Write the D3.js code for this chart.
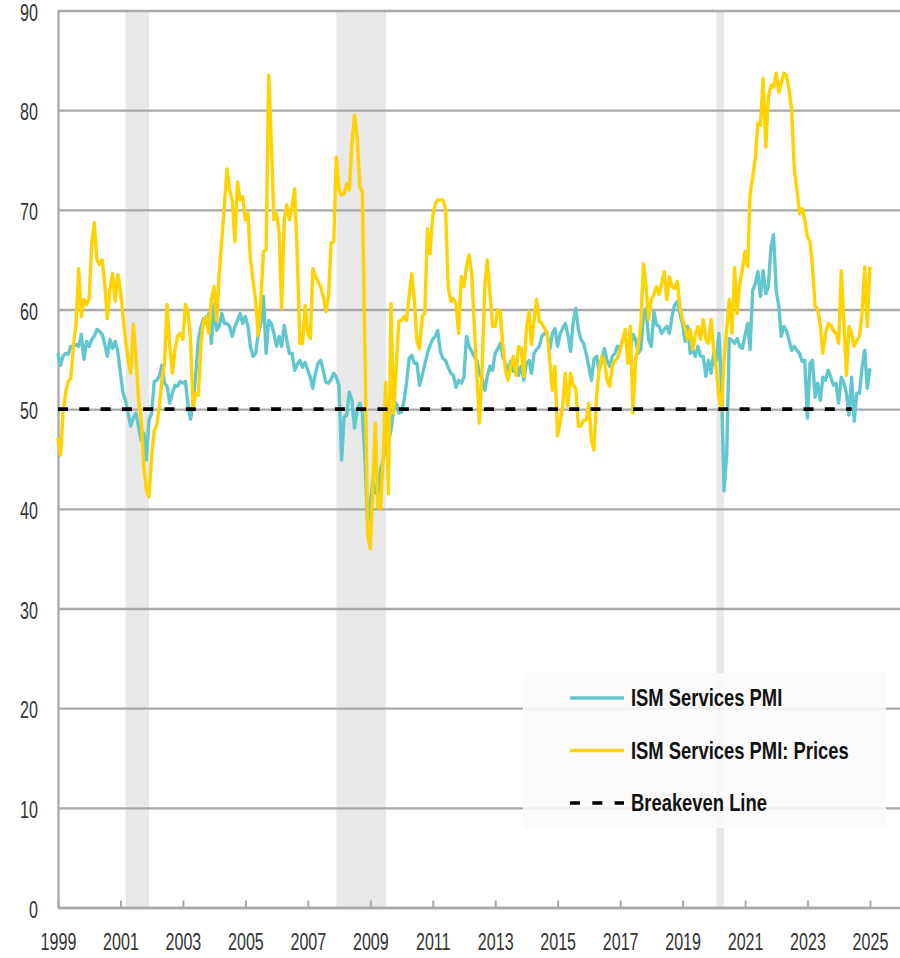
<!DOCTYPE html>
<html>
<head>
<meta charset="utf-8">
<script src="https://cdn.jsdelivr.net/npm/d3@7"></script>
<style>
  body { margin: 0; background: #fff; }
  svg { display: block; }
  text { font-family: 'Liberation Sans', Arial, sans-serif; }
</style>
</head>
<body>
<div id="chart"></div>
<script>
// monthly readings, first value is Dec 1998, plotted at month end
const firstYear = 1998, firstMonth = 11;

const pmi = [
  55.6,
  54.4, 55.3, 55.6, 55.5, 56.3, 56.3, 56.5, 56.3, 57.5, 55.0, 56.8, 56.3, // 1999
  57.0, 57.3, 58.0, 57.8, 57.5, 56.6, 55.3, 57.0, 56.1, 56.8, 55.8, 53.6, // 2000
  51.6, 50.9, 49.6, 48.3, 49.1, 49.6, 48.3, 46.9, 47.6, 44.9, 48.9, 49.6, // 2001
  52.8, 52.9, 53.3, 54.4, 52.6, 52.3, 50.6, 51.6, 52.4, 52.3, 52.8, 52.6, // 2002
  52.8, 50.5, 49.0, 50.5, 53.5, 57.0, 58.3, 59.1, 58.6, 59.6, 56.6, 60.5, // 2003
  57.9, 58.3, 59.6, 58.6, 58.6, 58.3, 57.3, 58.3, 58.9, 59.6, 58.6, 59.3, // 2004
  58.3, 56.3, 55.3, 55.6, 57.5, 58.6, 61.3, 55.6, 58.9, 58.6, 57.6, 56.3, // 2005
  57.3, 56.3, 58.4, 56.9, 55.6, 55.6, 53.9, 54.5, 54.9, 54.2, 54.7, 53.9, // 2006
  53.2, 52.1, 53.6, 54.6, 54.9, 53.9, 52.7, 52.6, 53.0, 53.6, 53.2, 52.4, // 2007
  44.9, 49.2, 49.4, 51.7, 50.9, 48.1, 49.9, 50.6, 49.6, 44.9, 38.5, 40.5, // 2008
  42.9, 41.6, 41.5, 43.9, 44.9, 46.6, 46.8, 47.9, 49.9, 50.6, 49.6, 49.7, // 2009
  50.9, 52.6, 55.1, 55.4, 54.6, 54.6, 52.4, 53.4, 54.5, 55.6, 56.4, 57.0, // 2010
  57.3, 57.9, 55.8, 55.1, 54.9, 54.2, 53.6, 53.4, 52.2, 52.9, 52.6, 53.2, // 2011
  57.3, 56.3, 55.8, 55.3, 54.9, 53.6, 53.1, 51.9, 53.3, 54.3, 53.9, 55.6, // 2012
  56.1, 56.6, 55.3, 54.6, 53.8, 54.8, 53.8, 54.9, 53.4, 54.3, 52.9, 54.6, // 2013
  54.9, 53.6, 55.6, 56.0, 56.3, 57.3, 57.6, 57.6, 56.0, 57.6, 58.1, 56.3, // 2014
  57.6, 58.1, 58.6, 57.5, 55.8, 58.6, 60.1, 58.0, 57.0, 56.6, 55.6, 54.3, // 2015
  52.9, 55.0, 55.3, 53.9, 54.9, 56.1, 54.9, 54.3, 55.3, 55.6, 56.3, 56.1, // 2016
  57.0, 57.1, 56.6, 56.1, 57.5, 57.0, 55.6, 56.0, 59.3, 60.1, 57.0, 56.3, // 2017
  59.8, 58.5, 58.3, 57.6, 58.0, 58.3, 57.6, 59.3, 60.5, 60.8, 59.6, 58.6, // 2018
  56.8, 58.3, 55.6, 56.0, 55.3, 56.3, 55.3, 55.3, 53.3, 54.9, 53.6, 55.6, // 2019
  54.9, 57.6, 52.5, 41.8, 45.4, 57.1, 56.9, 56.6, 57.1, 56.3, 56.1, 57.4, // 2020
  58.6, 56.0, 61.9, 62.6, 63.8, 61.3, 63.9, 61.6, 62.3, 66.3, 67.5, 61.9, // 2021
  60.3, 57.3, 58.3, 57.9, 56.9, 55.9, 56.3, 55.9, 55.6, 54.8, 54.9, 49.1, // 2022
  54.6, 54.9, 51.2, 52.6, 50.9, 53.2, 52.9, 53.9, 53.2, 52.4, 52.6, 50.6, // 2023
  53.2, 52.7, 51.6, 49.4, 53.2, 48.8, 51.6, 51.6, 54.2, 55.9, 52.1, 54.1  // 2024
];

const prices = [
  47.1,
  45.4, 49.6, 51.6, 52.8, 53.1, 56.3, 58.6, 64.1, 59.3, 61.0, 60.5, 61.1, // 1999
  66.7, 68.7, 65.0, 64.5, 65.0, 62.6, 59.1, 62.0, 63.6, 60.8, 63.5, 62.0, // 2000
  59.3, 57.0, 55.0, 53.6, 58.5, 55.3, 51.0, 48.9, 44.2, 41.9, 41.2, 45.3, // 2001
  47.9, 48.3, 50.3, 52.9, 54.6, 60.5, 56.3, 53.6, 56.0, 57.3, 57.6, 57.0, // 2002
  60.5, 59.8, 57.0, 50.1, 51.6, 51.4, 56.6, 58.8, 59.3, 57.6, 61.0, 62.3, // 2003
  58.9, 63.6, 67.0, 70.5, 74.1, 72.0, 71.0, 66.8, 72.8, 71.0, 71.3, 69.0, // 2004
  69.6, 65.1, 62.9, 60.9, 57.4, 60.9, 65.8, 66.0, 83.5, 76.7, 69.0, 69.6, // 2005
  67.6, 60.1, 69.0, 70.5, 69.0, 70.3, 72.1, 65.3, 56.6, 56.6, 60.4, 57.6, // 2006
  57.1, 64.1, 63.4, 62.8, 62.3, 61.3, 59.8, 61.3, 66.6, 66.8, 75.3, 72.0, // 2007
  71.5, 71.6, 72.6, 72.0, 76.7, 79.5, 77.3, 72.3, 71.8, 55.0, 37.5, 36.0, // 2008
  42.5, 48.6, 40.2, 40.0, 45.2, 52.7, 41.5, 60.6, 49.6, 54.2, 58.8, 58.9, // 2009
  59.3, 58.9, 61.3, 63.6, 60.9, 56.8, 56.1, 59.3, 59.6, 68.1, 65.6, 69.3, // 2010
  70.6, 71.0, 71.0, 71.0, 70.1, 62.3, 60.8, 61.1, 60.6, 57.6, 63.3, 62.3, // 2011
  64.3, 65.5, 63.6, 58.6, 53.3, 48.6, 53.9, 62.3, 65.0, 61.6, 58.3, 58.3, // 2012
  60.0, 59.8, 56.3, 53.9, 52.9, 54.3, 55.3, 53.4, 56.3, 56.1, 53.3, 58.0, // 2013
  59.8, 56.5, 59.0, 61.0, 58.8, 58.6, 58.1, 57.6, 54.9, 51.9, 54.3, 47.3, // 2014
  48.8, 50.3, 53.6, 50.3, 53.6, 52.4, 52.1, 48.3, 48.3, 48.9, 48.9, 50.6, // 2015
  46.9, 45.9, 51.3, 54.0, 55.3, 54.9, 52.9, 52.3, 54.3, 54.9, 55.1, 56.0, // 2016
  57.0, 58.0, 54.6, 58.3, 49.6, 54.9, 56.3, 58.6, 64.6, 62.3, 59.0, 61.0, // 2017
  61.5, 62.3, 61.5, 62.6, 63.8, 61.0, 63.3, 62.3, 62.1, 62.8, 60.3, 59.0, // 2018
  58.1, 57.0, 58.0, 56.0, 57.5, 58.3, 57.0, 59.0, 57.0, 56.6, 59.0, 56.0, // 2019
  53.9, 51.3, 49.9, 54.9, 58.0, 61.0, 57.6, 64.2, 59.6, 62.6, 64.0, 65.8, // 2020
  64.3, 71.6, 73.3, 75.2, 78.7, 78.5, 83.2, 76.3, 81.3, 82.5, 82.3, 83.7, // 2021
  81.8, 82.7, 83.7, 83.5, 82.0, 80.0, 74.0, 72.0, 69.6, 70.1, 69.0, 67.3, // 2022
  66.8, 64.3, 60.3, 60.1, 58.3, 55.6, 57.6, 58.6, 58.4, 57.9, 57.6, 56.6, // 2023
  63.9, 58.9, 53.4, 58.3, 57.6, 56.3, 56.9, 57.3, 59.6, 64.3, 58.3, 64.3  // 2024
];

const yTicks = [0, 10, 20, 30, 40, 50, 60, 70, 80, 90];
const xTickYears = [1999, 2001, 2003, 2005, 2007, 2009, 2011, 2013, 2015, 2017, 2019, 2021, 2023, 2025];
const recessions = [["2001-03-01", "2001-12-01"], ["2007-12-01", "2009-07-01"], ["2020-02-01", "2020-05-01"]];
const breakevenLevel = 50;
const breakevenSpan = ["1999-01-01", "2024-06-01"];
const seriesNames = ["ISM Services PMI", "ISM Services PMI: Prices", "Breakeven Line"];
const seriesColors = ["#62c6ce", "#ffd200", "#000000"];

const w = 900, h = 958;
const plotLeft = 58, plotRight = 870, plotTop = 10.5, plotBottom = 907.5;
const gridColor = "#a9a9a9";

const parse = d3.timeParse("%Y-%m-%d");

const svg = d3.select("#chart").append("svg")
    .attr("width", w)
    .attr("height", h);

const xScale = d3.scaleTime()
    .domain([new Date(1999, 0, 1), new Date(2025, 0, 1)])
    .range([plotLeft, plotRight]);

const yScale = d3.scaleLinear()
    .domain([0, 90])
    .range([plotBottom, plotTop]);

// month end dates
function toSeries(values) {
    return values.map(function(v, i) {
        return {date: new Date(firstYear, firstMonth + i + 1, 0), value: v};
    });
}

// recession shading
svg.append("g")
    .selectAll("rect")
    .data(recessions)
    .enter()
    .append("rect")
    .attr("x", d => xScale(parse(d[0])))
    .attr("width", d => xScale(parse(d[1])) - xScale(parse(d[0])))
    .attr("y", yScale(90))
    .attr("height", yScale(0) - yScale(90))
    .attr("fill", "#e8e8e8");

// gridlines + y labels
const yAxis = svg.append("g")
    .attr("transform", `translate(${plotLeft},0)`)
    .call(d3.axisLeft(yScale).tickValues(yTicks).tickSize(-(w - plotLeft)).tickSizeOuter(0));

yAxis.select(".domain").attr("stroke", gridColor).attr("stroke-width", 2.3);
yAxis.selectAll(".tick line").attr("stroke", gridColor).attr("stroke-width", 2.3);
yAxis.selectAll(".tick text")
    .attr("x", 0)
    .attr("dy", "0.42em")
    .attr("transform", "translate(-20,0) scale(0.7,1)")
    .attr("text-anchor", "end")
    .attr("fill", "#333")
    .style("font-size", "23px");

// lines
const line = d3.line()
    .x(d => xScale(d.date))
    .y(d => yScale(d.value));

[pmi, prices].forEach(function(values, k) {
    svg.append("path")
        .datum(toSeries(values))
        .attr("fill", "none")
        .attr("stroke", seriesColors[k])
        .attr("stroke-width", 3.4)
        .attr("stroke-linejoin", "round")
        .attr("d", line);
});

// breakeven
svg.append("path")
    .datum(breakevenSpan.map(d => ({date: parse(d), value: breakevenLevel})))
    .attr("fill", "none")
    .attr("stroke", seriesColors[2])
    .attr("stroke-width", 3.6)
    .attr("stroke-dasharray", "10,11.3")
    .attr("d", line);

// x axis
const xAxis = svg.append("g")
    .attr("transform", `translate(0,${plotBottom})`)
    .call(d3.axisBottom(xScale)
        .tickValues(xTickYears.map(y => new Date(y, 0, 1)))
        .tickFormat(d3.timeFormat("%Y"))
        .tickSize(-7)
        .tickSizeOuter(0));

xAxis.select(".domain").attr("stroke", gridColor).attr("stroke-width", 2.6);
xAxis.selectAll(".tick line").attr("stroke", gridColor).attr("stroke-width", 2);
xAxis.selectAll(".tick text")
    .attr("y", 0)
    .attr("dy", "0.35em")
    .attr("transform", "translate(0,34) scale(0.7,1)")
    .attr("fill", "#333")
    .style("font-size", "23px");

// legend
const legend = svg.append("g");

legend.append("rect")
    .attr("x", 523)
    .attr("y", 673)
    .attr("width", 363)
    .attr("height", 155)
    .attr("fill", "#fafafa")
    .attr("opacity", 0.88);

const item = legend.selectAll("g.item")
    .data(seriesNames)
    .enter()
    .append("g")
    .attr("class", "item")
    .attr("transform", (d, i) => `translate(570,${698 + i * 52.5})`);

item.append("line")
    .attr("x1", 0)
    .attr("x2", 54)
    .attr("stroke", (d, i) => seriesColors[i])
    .attr("stroke-width", (d, i) => i == 2 ? 3.6 : 3.4)
    .attr("stroke-dasharray", (d, i) => i == 2 ? "10,12.3" : null);

item.append("text")
    .attr("dy", "0.35em")
    .attr("transform", "translate(61,0) scale(0.8,1)")
    .style("font-size", "23px")
    .style("font-weight", "bold")
    .attr("fill", "#111")
    .text(d => d);
</script>
</body>
</html>
